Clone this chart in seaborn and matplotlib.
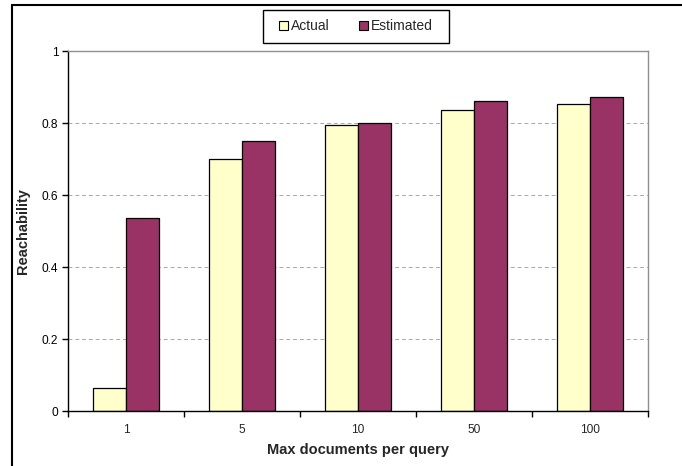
import matplotlib
matplotlib.use("Agg")
import matplotlib.pyplot as plt
from matplotlib.lines import Line2D
from matplotlib.patches import Rectangle
from matplotlib.ticker import FixedLocator
import seaborn as sns
import pandas as pd

# values
categories = ["1", "5", "10", "50", "100"]
actual = [0.065, 0.70, 0.795, 0.835, 0.852]
estimated = [0.537, 0.75, 0.80, 0.86, 0.872]
series_names = ["Actual", "Estimated"]
y_ticks = [0, 0.2, 0.4, 0.6, 0.8, 1]
y_ticklabels = ["0", "0.2", "0.4", "0.6", "0.8", "1"]

df = pd.DataFrame({
    "docs": categories * 2,
    "value": actual + estimated,
    "series": [series_names[0]] * len(actual) + [series_names[1]] * len(estimated),
})

sns.set_style("white")
plt.rcParams["font.family"] = ["Liberation Sans", "DejaVu Sans"]

W, H = 682, 466
fig = plt.figure(figsize=(W / 100, H / 100), dpi=100)
ax = fig.add_axes([68 / W, 1 - 411 / H, 580 / W, 360 / H])

palette = {"Actual": "#FFFFCC", "Estimated": "#993366"}
sns.barplot(data=df, x="docs", y="value", hue="series", order=categories,
            hue_order=series_names, palette=palette, width=0.57,
            edgecolor="black", linewidth=0.9, saturation=1, ax=ax, legend=False)

ax.set_xlim(-0.5, len(categories) - 0.5)
ax.set_ylim(0, 1)
ax.set_yticks(y_ticks)
ax.set_yticklabels(y_ticklabels)

# dashed grid
for y in y_ticks[1:-1]:
    ax.axhline(y, color="#A8A8A8", linestyle=(0, (4, 3)), linewidth=0.7, zorder=0)

# spines like an Excel chart
for side in ["top", "right"]:
    ax.spines[side].set_color("#909090")
    ax.spines[side].set_linewidth(1.0)
for side in ["left", "bottom"]:
    ax.spines[side].set_color("black")
    ax.spines[side].set_linewidth(1.0)

ax.tick_params(axis="y", direction="out", length=4, width=1, pad=3,
               labelsize=8.6, left=True, colors="black")
ax.tick_params(axis="x", which="major", length=0, pad=9.5, labelsize=8.6)
ax.xaxis.set_minor_locator(FixedLocator([i - 0.5 for i in range(len(categories) + 1)]))
ax.tick_params(axis="x", which="minor", direction="out", length=4, width=1,
               bottom=True, color="black")

ax.set_xlabel("Max documents per query", fontsize=10.5, fontweight="bold")
ax.set_ylabel("Reachability", fontsize=10.5, fontweight="bold")
ax.xaxis.set_label_coords(0.5, -0.09)
ax.yaxis.set_label_coords(-0.066, 0.5)

# legend, with its box drawn separately to match the reference size
handles = [Rectangle((0, 0), 1, 1, facecolor=palette[s], edgecolor="black", linewidth=0.8)
           for s in series_names]
fig.legend(handles, series_names, loc="center", bbox_to_anchor=(356 / W, 1 - 26.5 / H),
           ncol=2, frameon=False, fontsize=10, handlelength=0.65,
           handleheight=0.65, handletextpad=0.2, columnspacing=2.1,
           borderpad=0, borderaxespad=0)
fig.add_artist(Rectangle((263 / W, 1 - 43 / H), 186 / W, 33 / H, transform=fig.transFigure,
                         facecolor="none", edgecolor="black", linewidth=1.0))

# outer chart border (only top and left edges visible in the crop)
fig.add_artist(Line2D([12 / W, 1], [1 - 5 / H, 1 - 5 / H], color="black", linewidth=1.5,
                      transform=fig.transFigure))
fig.add_artist(Line2D([12 / W, 12 / W], [0, 1 - 5 / H], color="black", linewidth=1.5,
                      transform=fig.transFigure))

fig.savefig("out.png", dpi=100)
